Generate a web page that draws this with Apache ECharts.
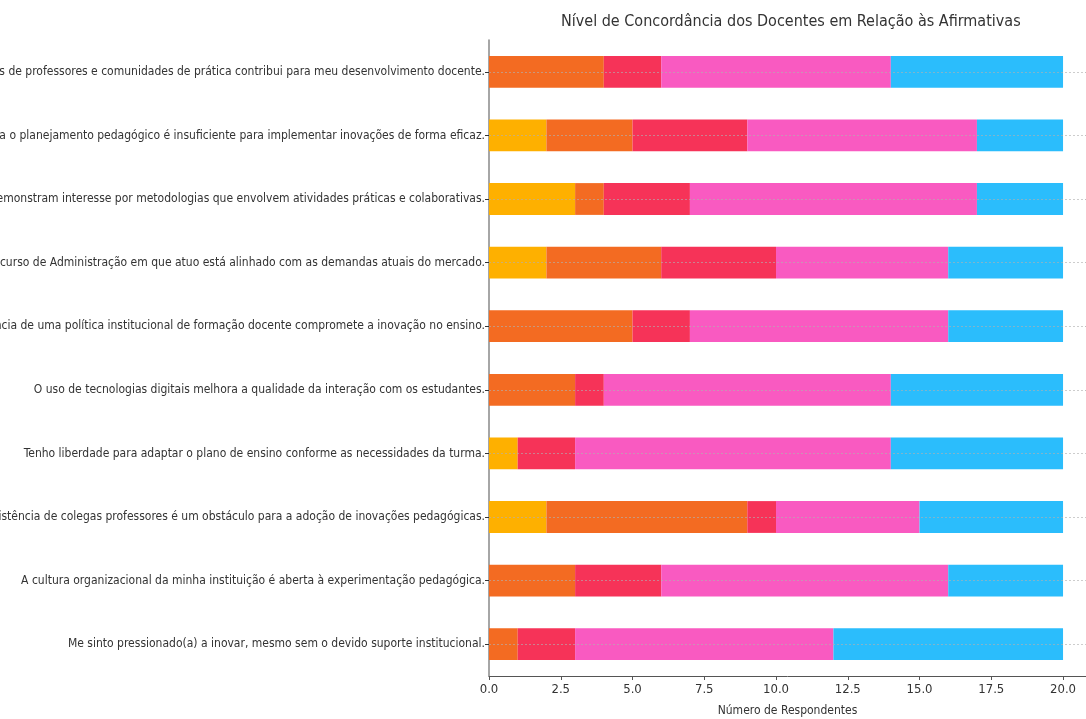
<!DOCTYPE html>
<html>
<head>
<meta charset="utf-8">
<script src="https://cdn.jsdelivr.net/npm/echarts@6/dist/echarts.min.js"></script>
<style>
  html, body { margin: 0; padding: 0; background: #fff; overflow: hidden; }
  #main { width: 1086px; height: 719px; }
</style>
</head>
<body>
<div id="main"></div>
<script>
// afirmativas, de baixo para cima (ordem do eixo)
var afirmativas = [
  'Me sinto pressionado(a) a inovar, mesmo sem o devido suporte institucional.',
  'A cultura organizacional da minha instituição é aberta à experimentação pedagógica.',
  'A resistência de colegas professores é um obstáculo para a adoção de inovações pedagógicas.',
  'Tenho liberdade para adaptar o plano de ensino conforme as necessidades da turma.',
  'O uso de tecnologias digitais melhora a qualidade da interação com os estudantes.',
  'A ausência de uma política institucional de formação docente compromete a inovação no ensino.',
  'O currículo do curso de Administração em que atuo está alinhado com as demandas atuais do mercado.',
  'Os estudantes demonstram interesse por metodologias que envolvem atividades práticas e colaborativas.',
  'O tempo disponível para o planejamento pedagógico é insuficiente para implementar inovações de forma eficaz.',
  'A participação em redes de professores e comunidades de prática contribui para meu desenvolvimento docente.'
];

var niveis = ['Discordo totalmente', 'Discordo', 'Neutro', 'Concordo', 'Concordo totalmente'];

var discordoTotalmente = [0, 0, 2, 1, 0, 0, 2, 3, 2, 0];
var discordo           = [1, 3, 7, 0, 3, 5, 4, 1, 3, 4];
var neutro             = [2, 3, 1, 2, 1, 2, 4, 3, 4, 2];
var concordo           = [9, 10, 5, 11, 10, 9, 6, 10, 8, 8];
var concordoTotalmente = [8, 4, 5, 6, 6, 4, 4, 3, 3, 6];

var xTicks = ['0.0', '2.5', '5.0', '7.5', '10.0', '12.5', '15.0', '17.5', '20.0'];

var cores = ['#FEB000', '#F36B22', '#F63358', '#F95AC1', '#2BBDFC'];
var fonte = "'DejaVu Sans Condensed', 'DejaVu Sans', sans-serif";

var myChart = echarts.init(document.getElementById('main'));

var valores = [discordoTotalmente, discordo, neutro, concordo, concordoTotalmente];
var series = niveis.map(function (nome, i) {
  return {
    name: nome,
    type: 'bar',
    stack: 'total',
    barWidth: '50%',
    itemStyle: { color: cores[i] },
    emphasis: { disabled: true },
    data: valores[i]
  };
});

// linhas de grade pontilhadas no centro de cada categoria
series[series.length - 1].markLine = {
  silent: true,
  symbol: ['none', 'none'],
  label: { show: false },
  lineStyle: { color: '#b0b0b0', type: [2, 2], width: 0.8, opacity: 0.8 },
  z: 10,
  data: afirmativas.map(function (a) { return { yAxis: a }; })
};

myChart.setOption({
  animation: false,
  backgroundColor: '#fff',
  title: {
    text: 'Nível de Concordância dos Docentes em Relação às Afirmativas',
    left: 556,
    top: 9,
    textStyle: {
      color: '#333',
      fontWeight: 'normal',
      fontSize: 16,
      fontFamily: fonte
    }
  },
  grid: {
    left: 489,
    right: 0,
    top: 40,
    bottom: 43,
    containLabel: false,
    outerBoundsMode: 'none'
  },
  xAxis: {
    type: 'value',
    min: 0,
    max: 20.8,
    interval: 2.5,
    name: 'Número de Respondentes',
    nameLocation: 'middle',
    nameGap: 29,
    nameTextStyle: { color: '#333', fontSize: 12, fontFamily: fonte },
    axisLine: { show: true, lineStyle: { color: '#555', width: 1 } },
    axisTick: { show: true, length: 4, lineStyle: { color: '#555' } },
    axisLabel: {
      color: '#333',
      fontSize: 13,
      fontFamily: fonte,
      margin: 7,
      showMaxLabel: false,
      formatter: function (v) {
        var i = Math.round(v / 2.5);
        return Math.abs(v - i * 2.5) < 1e-6 && xTicks[i] ? xTicks[i] : '';
      }
    },
    splitLine: { show: false }
  },
  yAxis: {
    type: 'category',
    data: afirmativas,
    axisLine: { show: true, lineStyle: { color: '#888', width: 1.5 } },
    axisTick: { show: true, alignWithLabel: true, length: 4, lineStyle: { color: '#333' } },
    axisLabel: {
      color: '#333',
      fontSize: 12,
      fontFamily: fonte,
      margin: 4
    },
    splitLine: { show: false }
  },
  series: series
});
</script>
</body>
</html>
